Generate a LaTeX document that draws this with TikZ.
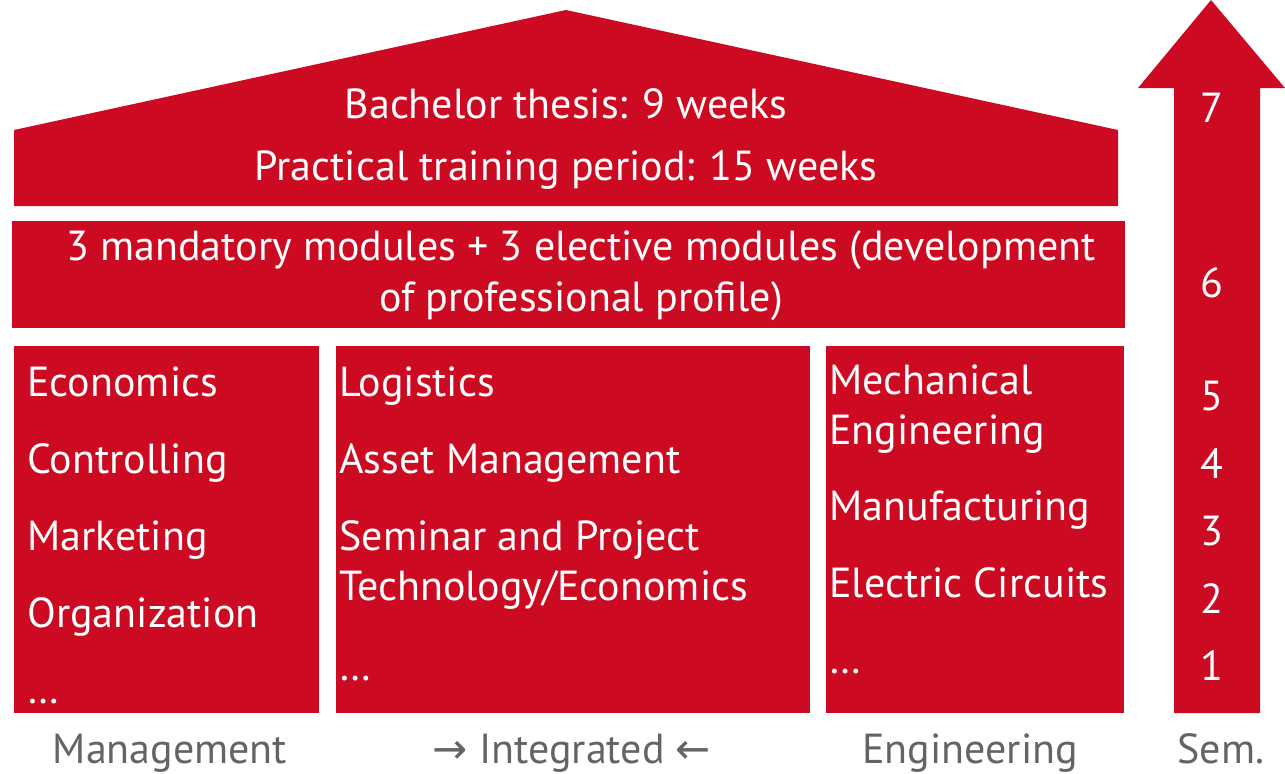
\documentclass[tikz,border=0pt]{standalone}
\usepackage{fontspec}
\setmainfont{PT Sans}
\newfontfamily\arrowfont{DejaVu Sans}
\usepackage{tikz}
\definecolor{hsred}{RGB}{204,10,34}
\definecolor{footgray}{RGB}{100,100,100}
\newcommand{\mainsz}{\fontsize{21}{24}\selectfont}
\tikzstyle{blk}=[fill=hsred, draw=none]
\tikzstyle{item}=[text=white, anchor=base west, inner sep=0pt, font=\mainsz]
\tikzstyle{mid}=[text=white, anchor=base, inner sep=0pt, font=\mainsz]
\tikzstyle{foot}=[text=footgray, anchor=base, inner sep=0pt, font=\mainsz]

\begin{document}
\begin{tikzpicture}[x=0.5pt, y=-0.5pt]
        \useasboundingbox (0,0) rectangle (1285,773);
        % roof, layer, columns
        \fill[blk] (14,206) -- (14,130) -- (566,10) -- (1118,130) -- (1118,206) -- cycle;
        \fill[blk] (12,221) rectangle (1125,328);
        \fill[blk] (14,346) rectangle (319,713);
        \fill[blk] (336,346) rectangle (810,713);
        \fill[blk] (826,346) rectangle (1124,713);
        % semester arrow
        \fill[blk] (1174,713) -- (1174,88) -- (1138,88) -- (1211,0) -- (1285,88)
            -- (1260,88) -- (1260,713) -- cycle;

        \node[mid] (thesis) at (566,118) {Bachelor thesis: 9 weeks};
        \node[mid] (training) at (566,180) {Practical training period: 15 weeks};
        \node[mid] (modules) at (581,260) {3 mandatory modules + 3 elective modules (development};
        \node[mid] (profile) at (581,311) {of professional profile)};

        \foreach \name/\txt/\yy in {eco/Economics/396, con/Controlling/473,
            mar/Marketing/550, org/Organization/627, mdots/\dots/703}
            \node[item] (\name) at (27,\yy) {\txt};
        \foreach \name/\txt/\yy in {log/Logistics/396, asset/Asset Management/473,
            sem/Seminar and Project/550, tech/Technology\slash Economics/600, idots/\dots/680}
            \node[item] (\name) at (339,\yy) {\txt};
        \foreach \name/\txt/\yy in {mech/Mechanical/394, eng/Engineering/444,
            man/Manufacturing/520, ele/Electric Circuits/597, edots/\dots/673}
            \node[item] (\name) at (829,\yy) {\txt};

        \foreach \n/\yy in {7/122, 6/297, 5/410, 4/478, 3/545, 2/613, 1/680}
            \node[mid] (s\n) at (1212,\yy) {\n};

        \node[foot] (management) at (170,763) {Management};
        \node[foot] (integrated) at (572,763) {{\arrowfont →} Integrated {\arrowfont ←}};
        \node[foot] (engineering) at (970,763) {Engineering};
        \node[foot] (semester) at (1221,763) {Sem.};
    \end{tikzpicture}
\end{document}
